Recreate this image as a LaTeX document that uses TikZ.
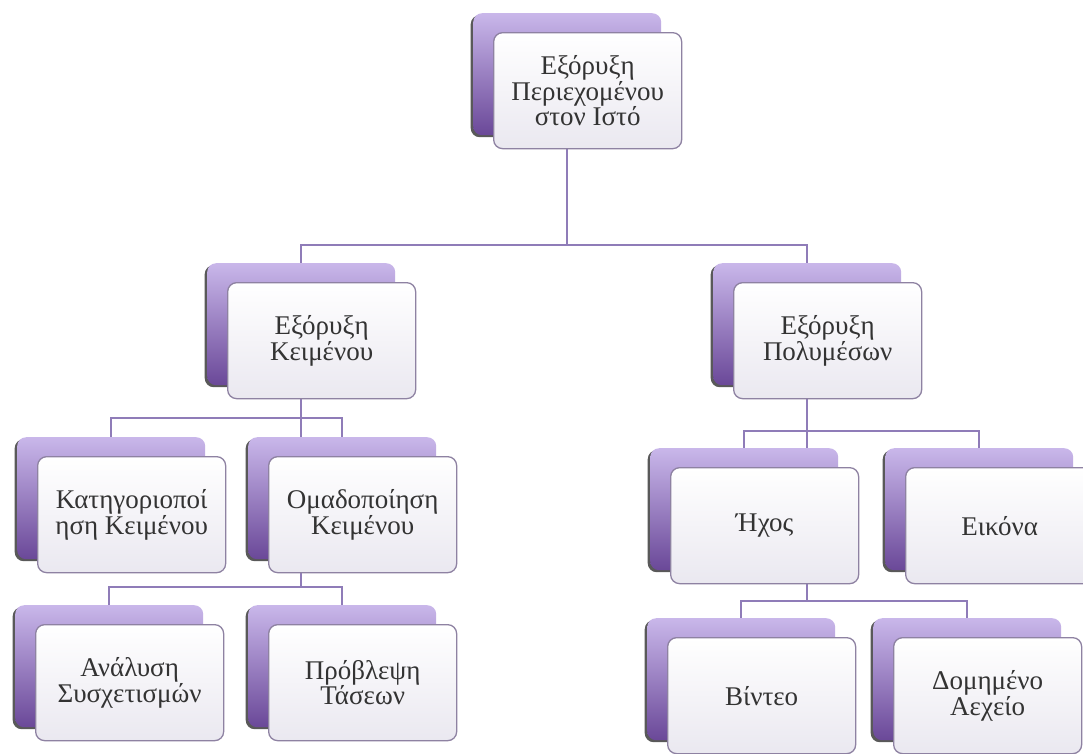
\documentclass[tikz,border=0pt]{standalone}
\usepackage{fontspec}
\setmainfont{Liberation Serif}
\usetikzlibrary{shadows,backgrounds}
\definecolor{backtop}{HTML}{C9B7EA}
\definecolor{backbot}{HTML}{6A4898}
\definecolor{frontedge}{HTML}{8E82A2}
\definecolor{frontbot}{HTML}{EAE8F0}
\definecolor{linec}{HTML}{8F7CB8}
\definecolor{txt}{HTML}{333333}
\tikzset{
  backbox/.style={rectangle, rounded corners=9pt, minimum width=188pt, minimum height=122pt,
    top color=backtop, bottom color=backbot, inner sep=0pt, draw=none,
    drop shadow={shadow xshift=-2.5pt, shadow yshift=-2pt, fill=black, opacity=.65}},
  frontbox/.style={rectangle, rounded corners=9pt, minimum width=188pt, minimum height=116pt,
    top color=white, bottom color=frontbot, draw=frontedge, line width=1.3pt,
    align=center, font=\fontsize{27}{24}\selectfont, text=txt, inner sep=0pt},
  conn/.style={draw=linec, line width=2pt}
}
\newcommand\orgbox[4]{%
  \node[backbox, anchor=north west] (#1b) at (#2,#3) {};
  \node[frontbox, anchor=north west] (#1) at (#2+20,#3+19) {#4};
}
\begin{document}
\begin{tikzpicture}[x=1pt,y=-1pt]
\path[use as bounding box, clip] (0,0) rectangle (1083,753);
\orgbox{top}{473}{13}{Εξόρυξη\\Περιεχομένου\\στον Ιστό}
\orgbox{K}{207}{263}{Εξόρυξη\\Κειμένου}
\orgbox{P}{713}{263}{Εξόρυξη\\Πολυμέσων}
\orgbox{Kat}{17}{437}{Κατηγοριοποί\\ηση Κειμένου}
\orgbox{Om}{248}{437}{Ομαδοποίηση\\Κειμένου}
\orgbox{An}{15}{605}{Ανάλυση\\Συσχετισμών}
\orgbox{Pr}{248}{605}{Πρόβλεψη\\Τάσεων}
\orgbox{Ix}{650}{448}{Ήχος}
\orgbox{Ei}{885}{448}{Εικόνα}
\orgbox{Vi}{647}{618}{Βίντεο}
\orgbox{Do}{873}{618}{Δομημένο\\Αεχείο}
\coordinate (bus0) at (0,245);
\coordinate (busK1) at (0,418);
\coordinate (busK2) at (0,587);
\coordinate (busP1) at (0,431);
\coordinate (busP2) at (0,601);
\begin{scope}[on background layer]
\fill[white] (0,0) rectangle (1083,753);
\draw[conn] (topb.center |- top.south) -- (topb.center |- bus0);
\draw[conn] (Kb.north) -- (Kb.north |- bus0) -- (Pb.north |- bus0) -- (Pb.north);
\draw[conn] (Kb.center |- K.south) -- (Kb.center |- busK2);
\draw[conn] (Katb.north) -- (Katb.north |- busK1) -- (Omb.north |- busK1) -- (Omb.north);
\draw[conn] (Anb.north) -- (Anb.north |- busK2) -- (Prb.north |- busK2) -- (Prb.north);
\draw[conn] (Pb.center |- P.south) -- (Pb.center |- busP2);
\draw[conn] (Ixb.north) -- (Ixb.north |- busP1) -- (Eib.north |- busP1) -- (Eib.north);
\draw[conn] (Vib.north) -- (Vib.north |- busP2) -- (Dob.north |- busP2) -- (Dob.north);
\end{scope}
\end{tikzpicture}
\end{document}
